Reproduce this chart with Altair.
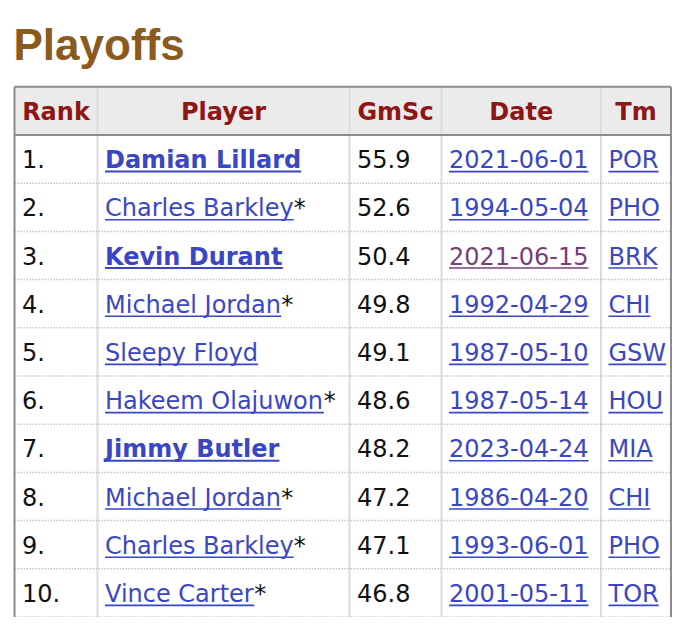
import altair as alt
import pandas as pd

# ---------------- data ----------------
title_text = "Playoffs"
headers = ["Rank", "Player", "GmSc", "Date", "Tm"]
ranks = ["1.", "2.", "3.", "4.", "5.", "6.", "7.", "8.", "9.", "10."]
players = ["Damian Lillard", "Charles Barkley", "Kevin Durant", "Michael Jordan",
           "Sleepy Floyd", "Hakeem Olajuwon", "Jimmy Butler", "Michael Jordan",
           "Charles Barkley", "Vince Carter"]
hall_of_fame = [False, True, False, True, False, True, False, True, True, True]
active = [True, False, True, False, False, False, True, False, False, False]
game_scores = [55.9, 52.6, 50.4, 49.8, 49.1, 48.6, 48.2, 47.2, 47.1, 46.8]
dates = ["2021-06-01", "1994-05-04", "2021-06-15", "1992-04-29", "1987-05-10",
         "1987-05-14", "2023-04-24", "1986-04-20", "1993-06-01", "2001-05-11"]
date_visited = [False, False, True, False, False, False, False, False, False, False]
teams = ["POR", "PHO", "BRK", "CHI", "GSW", "HOU", "MIA", "CHI", "PHO", "TOR"]

# ---------------- layout / style ----------------
PAGE_X0, PAGE_Y0 = 8, 8
W = 664
PAD_TOP = 79
H = 609 - PAD_TOP
ROW_TOP, ROW_H = 86.8, 48.2
COL_EDGES = [14.5, 97.5, 349.5, 441.5, 601.0, 671.0]
CELL_PAD = 7.5
FS = 24
FONT = "DejaVu Sans"
LINK = "#3a47c2"
VISITED = "#7b3c7e"
HEAD_RED = "#8e1616"
TEXT = "#111111"

X_DOMAIN = [PAGE_X0, PAGE_X0 + W]
top_px = PAGE_Y0 + PAD_TOP
Y_DOMAIN = [(top_px - ROW_TOP) / ROW_H - 0.5, (top_px + H - ROW_TOP) / ROW_H - 0.5]

# DejaVu Sans advance widths (units per em 2048) for underline lengths
REG = {' ': 651, '*': 1024, '-': 739, '.': 651,
       'A': 1401, 'B': 1405, 'C': 1430, 'D': 1577, 'E': 1294, 'F': 1178, 'G': 1587,
       'H': 1540, 'I': 604, 'J': 604, 'K': 1343, 'L': 1141, 'M': 1767, 'N': 1532,
       'O': 1612, 'P': 1235, 'Q': 1612, 'R': 1423, 'S': 1300, 'T': 1251, 'U': 1499,
       'V': 1401, 'W': 2025, 'X': 1403, 'Y': 1251, 'Z': 1403,
       'a': 1255, 'b': 1300, 'c': 1126, 'd': 1300, 'e': 1260, 'f': 721, 'g': 1300,
       'h': 1298, 'i': 569, 'j': 569, 'k': 1186, 'l': 569, 'm': 1995, 'n': 1298,
       'o': 1253, 'p': 1300, 'q': 1300, 'r': 842, 's': 1067, 't': 803, 'u': 1298,
       'v': 1212, 'w': 1675, 'x': 1212, 'y': 1212, 'z': 1075}
for d in "0123456789":
    REG[d] = 1303
BOLD = {' ': 713, '.': 782, '-': 856,
        'A': 1585, 'B': 1561, 'C': 1499, 'D': 1699, 'E': 1399, 'F': 1399, 'G': 1681,
        'H': 1712, 'I': 764, 'J': 764, 'K': 1593, 'L': 1305, 'M': 1997, 'N': 1712,
        'O': 1741, 'P': 1501, 'Q': 1741, 'R': 1565, 'S': 1475, 'T': 1397, 'U': 1663,
        'V': 1585, 'W': 2259, 'X': 1583, 'Y': 1485, 'Z': 1485,
        'a': 1382, 'b': 1466, 'c': 1214, 'd': 1466, 'e': 1389, 'f': 891, 'g': 1466,
        'h': 1458, 'i': 702, 'j': 702, 'k': 1362, 'l': 702, 'm': 2134, 'n': 1458,
        'o': 1407, 'p': 1466, 'q': 1466, 'r': 1010, 's': 1219, 't': 979, 'u': 1458,
        'v': 1335, 'w': 1888, 'x': 1321, 'y': 1335, 'z': 1214}
for d in "0123456789":
    BOLD[d] = 1425


def text_width(s, bold=False):
    table = BOLD if bold else REG
    return sum(table.get(c, 1300) for c in s) * FS / 2048.0


def cell_x(col):
    return COL_EDGES[col] + CELL_PAD


xs = alt.Scale(domain=X_DOMAIN, range=[0, W], nice=False, zero=False)
ys = alt.Scale(domain=Y_DOMAIN, range=[0, H], nice=False, zero=False)


def X(f):
    return alt.X(f, type="quantitative", scale=xs, axis=None)


def Y(f):
    return alt.Y(f, type="quantitative", scale=ys, axis=None)


n = len(ranks)
left, right = COL_EDGES[0], COL_EDGES[-1]
bottom_r = Y_DOMAIN[1]

# ---------------- frames ----------------
header_bg = pd.DataFrame({"x": [left], "x2": [right], "y": [-0.5], "y2": [0.5]})
col_lines = pd.DataFrame({"x": COL_EDGES[1:-1], "y": [-0.5] * 4, "y2": [bottom_r] * 4})
row_lines = pd.DataFrame({"x": [left] * n, "x2": [right] * n,
                          "y": [i + 1.5 for i in range(n)]})
hborders = pd.DataFrame({"x": [left, left], "x2": [right, right], "y": [-0.5, 0.5]})
vborders = pd.DataFrame({"x": [left, right], "y": [-0.5, -0.5], "y2": [bottom_r, bottom_r]})

header_df = pd.DataFrame({
    "label": headers,
    "x": [(COL_EDGES[i] + COL_EDGES[i + 1]) / 2 for i in range(len(headers))],
    "y": [0] * len(headers),
})

reg_rows, bold_rows, lines = [], [], []
for i in range(n):
    r = i + 1
    reg_rows.append({"t": ranks[i], "x": cell_x(0), "y": r, "c": TEXT})
    name_w = text_width(players[i], active[i])
    (bold_rows if active[i] else reg_rows).append(
        {"t": players[i], "x": cell_x(1), "y": r, "c": LINK})
    lines.append({"x": cell_x(1), "x2": cell_x(1) + name_w, "y": r, "c": LINK,
                  "sw": 2.0 if active[i] else 1.6})
    if hall_of_fame[i]:
        reg_rows.append({"t": "*", "x": cell_x(1) + name_w, "y": r, "c": TEXT})
    reg_rows.append({"t": f"{game_scores[i]:.1f}", "x": cell_x(2), "y": r, "c": TEXT})
    dc = VISITED if date_visited[i] else LINK
    reg_rows.append({"t": dates[i], "x": cell_x(3), "y": r, "c": dc})
    lines.append({"x": cell_x(3), "x2": cell_x(3) + text_width(dates[i]), "y": r,
                  "c": dc, "sw": 1.6})
    reg_rows.append({"t": teams[i], "x": cell_x(4), "y": r, "c": LINK})
    lines.append({"x": cell_x(4), "x2": cell_x(4) + text_width(teams[i]), "y": r,
                  "c": LINK, "sw": 1.6})

reg_df = pd.DataFrame(reg_rows)
bold_df = pd.DataFrame(bold_rows)
line_df = pd.DataFrame(lines)

# ---------------- layers ----------------
bg = alt.Chart(header_bg).mark_rect(color="#ebebeb").encode(
    x=X("x"), x2="x2", y=Y("y"), y2="y2")

cols = alt.Chart(col_lines).mark_rule(color="#dcdcdc", strokeWidth=2).encode(
    x=X("x"), y=Y("y"), y2="y2")

rows = alt.Chart(row_lines).mark_rule(color="#c6c6c6", strokeWidth=1.5,
                                      strokeDash=[1.5, 1.5]).encode(
    x=X("x"), x2="x2", y=Y("y"))

hb = alt.Chart(hborders).mark_rule(color="#8c8c8c", strokeWidth=2).encode(
    x=X("x"), x2="x2", y=Y("y"))

vb = alt.Chart(vborders).mark_rule(color="#8c8c8c", strokeWidth=2).encode(
    x=X("x"), y=Y("y"), y2="y2")

head = alt.Chart(header_df).mark_text(
    align="center", baseline="alphabetic", dy=9, font=FONT, fontSize=FS,
    fontWeight="bold", color=HEAD_RED).encode(x=X("x"), y=Y("y"), text="label:N")

reg_text = alt.Chart(reg_df).mark_text(
    align="left", baseline="alphabetic", dy=9, font=FONT, fontSize=FS).encode(
    x=X("x"), y=Y("y"), text="t:N", color=alt.Color("c:N", scale=None))

bold_text = alt.Chart(bold_df).mark_text(
    align="left", baseline="alphabetic", dy=9, font=FONT, fontSize=FS,
    fontWeight="bold").encode(
    x=X("x"), y=Y("y"), text="t:N", color=alt.Color("c:N", scale=None))

underlines = alt.Chart(line_df).mark_rule(yOffset=12.5).encode(
    x=X("x"), x2="x2", y=Y("y"),
    color=alt.Color("c:N", scale=None),
    strokeWidth=alt.StrokeWidth("sw:Q", scale=None))

chart = alt.layer(bg, cols, rows, hb, vb, head, reg_text, bold_text, underlines).properties(
    width=W, height=H,
    padding={"top": PAD_TOP, "left": 0, "right": 0, "bottom": 0},
    autosize=alt.AutoSizeParams(type="none"),
    background="white",
    title=alt.TitleParams(text=title_text, anchor="start", frame="group",
                          font="Liberation Sans", fontSize=44, fontWeight="bold",
                          color="#8b5a1e", baseline="alphabetic", offset=-18, dx=5.5),
).configure_view(stroke=None)

chart.save("out.html", embed_options={"renderer": "svg", "actions": False})
